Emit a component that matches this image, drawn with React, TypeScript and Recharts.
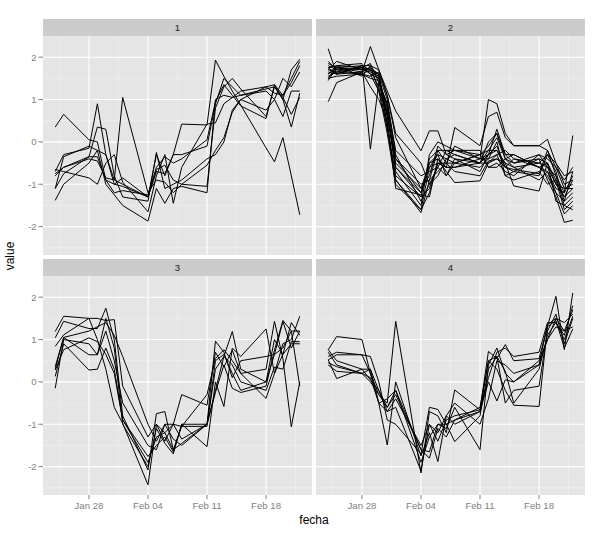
import React from 'react';
import { LineChart, Line, XAxis, YAxis, CartesianGrid } from 'recharts';

// business days in the series
const fechas = [
  '2013-01-24', '2013-01-25', '2013-01-28', '2013-01-29', '2013-01-30', '2013-01-31', '2013-02-01',
  '2013-02-04', '2013-02-05', '2013-02-06', '2013-02-07', '2013-02-08', '2013-02-11', '2013-02-12',
  '2013-02-13', '2013-02-14', '2013-02-15', '2013-02-18', '2013-02-19', '2013-02-20', '2013-02-21',
  '2013-02-22',
];

const xTickFechas = ['2013-01-28', '2013-02-04', '2013-02-11', '2013-02-18'];
const xTickLabels = ['Jan 28', 'Feb 04', 'Feb 11', 'Feb 18'];
const yTicks = [-2, -1, 0, 1, 2];
const yMinor = [-2.5, -1.5, -0.5, 0.5, 1.5, 2.5];

const grupo1 = [
  [0.35, 0.65, 0.05, 0.0, -0.9, -1.2, -1.15, -1.25, -0.6, -0.35, -0.5, -0.4, 0.05, 0.95, 1.35, 1.1, 0.85, 0.55, 1.35, 1.0, 0.35, 1.15],
  [-0.7, -0.3, -0.15, 0.9, -0.3, -1.0, -1.05, -1.3, -0.3, -0.8, -0.3, 0.42, 0.4, 1.93, 1.55, 1.2, 0.87, -0.14, -0.47, 0.1, -0.8, -1.72],
  [-1.1, -0.35, -0.1, -0.2, -0.3, -0.9, 1.05, -1.2, -0.9, -0.95, -1.2, -1.0, -1.05, 0.8, 1.3, 1.5, 1.25, 0.6, 1.3, 1.0, 1.7, 1.95],
  [-1.38, -1.0, -0.5, -0.2, -1.0, -1.25, -1.5, -1.87, -1.1, -1.45, -1.1, -1.05, -1.2, 1.0, 1.1, 1.05, 1.2, 1.3, 1.35, 1.1, 1.4, 1.8],
  [-0.65, -0.7, -0.85, -1.0, -0.5, -0.3, -0.95, -1.65, -0.8, -0.3, -1.45, -0.6, 0.42, 0.45, 0.9, 1.05, 1.1, 1.2, 1.0, 1.5, 1.3, 1.65],
  [-0.8, -0.6, -0.4, -0.45, -0.85, -0.9, -1.0, -1.3, -0.65, -0.55, -0.9, -1.0, -0.55, -0.2, 0.1, 0.7, 1.0, 1.3, 1.15, 1.1, 1.5, 1.9],
  [-0.75, -0.6, -0.35, 0.35, 0.3, -0.8, -1.3, -1.4, -0.25, -1.1, -1.0, -0.9, -0.4, -0.3, 0.0, 0.75, 1.0, 0.75, 1.0, 0.6, 1.2, 1.2],
  [-1.1, -0.75, -0.35, -0.35, -0.9, -1.0, -0.85, -1.3, -0.7, -0.75, -0.3, -0.3, -0.1, 0.9, 1.5, 1.3, 1.1, 1.25, 1.3, 1.05, 0.65, 1.05],
];

const grupo2 = [
  [1.5, 1.8, 1.85, -0.17, 1.4, 0.9, -0.4, -1.2, -0.6, -0.3, -0.4, -0.3, -0.5, 0.0, 0.2, -0.4, -0.3, -0.6, -0.5, -1.0, -1.3, -0.9],
  [0.95, 1.4, 1.65, 2.25, 1.7, 1.2, 0.73, -0.21, 0.26, 0.26, -0.3, -0.2, -0.4, 1.0, 0.9, 0.2, -0.09, -0.09, 0.06, -0.5, -0.8, -0.7],
  [2.2, 1.6, 1.8, 1.7, 1.3, 0.3, -0.9, -1.67, -0.9, -0.2, -0.5, -0.1, -0.4, -0.3, 0.3, -0.3, -0.5, -0.4, -0.9, -1.3, -1.9, -1.85],
  [1.8, 1.7, 1.75, 1.6, 1.5, 0.6, -0.6, -1.2, -0.5, -0.4, -0.6, 0.34, -0.09, 0.6, 0.7, 0.1, -0.09, -0.09, -0.2, -0.8, -1.2, 0.15],
  [1.6, 1.75, 1.7, 1.75, 1.6, 1.0, -0.3, -1.4, -1.0, -0.6, -0.8, -0.5, -0.3, -0.2, -0.2, -0.6, -0.7, -0.8, -0.3, -0.7, -1.4, -1.2],
  [1.7, 1.9, 1.7, 1.65, 1.55, 0.7, -0.5, -1.1, -0.8, -0.1, -0.3, -0.4, -0.5, -0.3, -0.2, -0.5, -0.6, -0.5, -0.6, -1.0, -1.1, -1.1],
  [1.85, 1.75, 1.8, 1.8, 1.2, 0.2, -1.0, -1.6, -1.2, -0.5, -0.6, -0.6, -0.4, -0.4, 0.0, -0.8, -0.9, -0.7, -1.0, -0.9, -1.6, -1.4],
  [1.5, 1.55, 1.6, 1.5, 1.45, 0.4, -0.8, -1.3, -0.4, -0.2, -0.2, -0.2, -0.2, -0.6, -0.5, -0.7, -0.8, -0.3, -0.4, -0.6, -0.9, -0.6],
  [1.75, 1.8, 1.75, 1.85, 1.4, 0.9, -0.2, -0.8, -0.7, -0.6, -0.2, -0.3, -0.5, -0.2, 0.1, -0.4, -0.6, -0.9, -0.7, -1.1, -1.2, -0.8],
  [1.65, 1.6, 1.65, 1.3, 1.0, 0.5, -1.1, -1.25, -1.3, -0.4, -0.7, -0.96, -0.92, -0.5, -0.4, -0.5, -1.04, -1.16, -0.5, -1.4, -1.5, -1.3],
  [1.9, 1.7, 1.6, 1.55, 1.65, 1.1, 0.2, -0.5, -1.0, -0.8, -0.4, -0.5, -0.6, -0.4, -0.3, -0.2, -0.4, -0.5, -0.3, -0.5, -1.0, -0.9],
  [1.55, 1.65, 1.75, 1.7, 1.5, 0.8, -0.7, -1.5, -0.3, 0.0, -0.1, -0.2, -0.3, -0.1, 0.2, -0.3, -0.3, -0.6, -0.7, -1.2, -1.7, -1.5],
  [1.45, 1.75, 1.65, 1.75, 1.55, 0.6, -0.4, -1.0, -0.9, -0.7, -0.5, -0.7, -0.8, -0.45, -0.4, -0.6, -0.65, -0.75, -0.2, -0.6, -1.1, -1.0],
  [1.7, 1.65, 1.6, 1.7, 1.6, 0.4, -0.9, -1.6, -0.6, -0.5, -0.6, -0.6, -0.5, -0.5, -0.3, -0.8, -0.7, -0.4, -0.5, -0.9, -1.3, -1.1],
  [1.6, 1.8, 1.55, 1.8, 1.7, 1.1, 0.1, -1.1, -0.5, -0.3, -0.8, -0.4, -0.7, -0.3, -0.1, -0.6, -0.4, -0.6, -0.8, -1.2, -1.4, -0.7],
  [1.75, 1.6, 1.8, 1.6, 1.2, 0.7, -0.6, -1.3, -1.1, -0.5, -0.5, -0.5, -0.3, -0.6, -0.6, -0.4, -0.5, -0.3, -0.6, -0.8, -1.5, -1.6],
];

const grupo3 = [
  [1.19, 1.55, 1.5, 1.5, 1.45, 1.47, -0.1, -1.3, -1.0, -1.2, -1.0, -1.05, -0.3, 0.55, 0.76, 0.5, 0.2, 0.3, 1.43, 0.55, -1.06, 0.0],
  [1.04, 1.43, 1.26, 1.26, 1.74, 1.0, -0.8, -2.08, -0.75, -0.7, -1.6, -1.45, -1.0, 0.96, 0.7, 0.1, 0.5, 0.6, 0.65, 1.43, 0.8, 1.2],
  [0.84, 1.11, 1.5, 1.0, 0.3, -0.6, -0.98, -2.43, -1.0, -1.4, -1.0, -1.35, -1.0, 0.3, 0.6, 1.19, 0.3, 0.0, 1.0, 0.65, 1.4, 1.1],
  [0.36, 1.05, 0.64, 0.64, 1.5, 0.8, -1.0, -2.0, -1.1, -1.45, -1.7, -1.0, -1.53, 0.0, -0.58, 0.8, 0.6, 1.25, 0.2, 0.9, 1.0, 1.55],
  [0.28, 0.76, 1.04, 0.95, 0.65, 0.2, -0.9, -1.76, -1.5, -1.3, -1.65, -1.0, -1.0, -0.2, 0.6, 0.4, 0.0, -0.2, 0.35, 0.3, 0.95, 0.95],
  [0.13, 0.9, 0.28, 0.3, 0.8, 0.3, -0.9, -1.9, -1.3, -1.2, -1.6, -1.05, -1.05, 0.5, 0.65, 0.2, -0.2, 0.0, 0.65, 0.8, 1.2, -0.1],
  [-0.15, 1.0, 0.9, 0.64, 1.2, 0.5, -0.5, -1.5, -1.6, -1.0, -1.0, -0.3, -0.55, 0.7, 0.35, 0.75, 0.2, -0.39, 0.2, 0.65, 0.9, 0.9],
  [0.3, 1.05, 1.2, 1.3, 1.4, 1.1, 0.6, -1.0, -1.4, -1.0, -1.35, -1.5, -1.0, -0.25, 0.4, -0.15, -0.25, -0.1, 0.75, 1.45, 1.2, 1.2],
];

const grupo4 = [
  [0.76, 1.07, 1.0, 0.2, -0.3, -0.5, 1.43, -2.15, -0.7, -0.8, -1.2, -0.19, -0.66, 0.72, 0.55, 0.88, 0.5, 0.55, 1.31, 2.02, 0.76, 2.1],
  [0.52, 0.64, 0.64, 0.2, -0.5, -1.49, 0.0, -1.75, -1.2, -1.88, -0.8, -1.0, -0.7, 0.5, 0.6, -0.5, -0.2, -0.1, 1.2, 1.6, 0.9, 1.5],
  [0.45, 0.36, 0.2, 0.0, -0.3, -0.6, -0.3, -1.6, -1.65, -1.0, -1.1, -0.6, -1.6, 0.4, 0.8, 0.2, 0.0, 0.5, 1.0, 1.3, 1.2, 1.3],
  [0.52, 0.08, 0.3, 0.05, -0.2, -0.7, -0.6, -2.1, -1.0, -1.2, -0.8, -0.5, -1.0, -0.4, 0.5, 0.4, 0.2, 0.4, 1.35, 1.5, 1.4, 1.6],
  [0.6, 0.7, 0.64, 0.6, 0.0, -0.9, -1.0, -1.7, -0.6, -0.65, -1.0, -1.41, -0.8, 0.3, 0.6, 0.25, -0.5, 0.3, 1.1, 1.4, 1.1, 1.8],
  [0.76, 0.5, 0.3, 0.3, -0.2, -0.6, -0.2, -1.6, -1.8, -1.1, -1.3, -0.9, -0.6, 0.5, 0.3, -0.2, -0.55, -0.58, 1.3, 1.45, 0.8, 1.25],
  [0.4, 0.25, 0.2, 0.1, -0.5, -0.4, -0.2, -1.9, -1.3, -1.0, -1.0, -0.9, -0.7, 0.0, -0.45, 0.05, 0.0, 0.4, 1.0, 1.5, 1.2, 1.7],
  [0.7, 0.4, 0.2, 0.3, -0.5, -0.7, -0.4, -1.5, -1.0, -1.4, -0.9, -0.8, -0.66, 0.1, 0.7, 0.8, 0.6, 0.7, 1.4, 1.4, 1.0, 1.55],
];

const FONT = '"Liberation Sans", Arial, Helvetica, sans-serif';

const dia = (s: string) => Math.round((Date.parse(s) - Date.parse('2013-01-01')) / 86400000) + 1;

const xs = fechas.map(dia);
const pad = (xs[xs.length - 1] - xs[0]) * 0.05;
const xDomain = [xs[0] - pad, xs[xs.length - 1] + pad];
const xTicks = xTickFechas.map(dia);
const xMinor = [xTicks[0] - 3.5, ...xTicks.map((t) => t + 3.5)];
const yDomain = [-2.67, 2.5];

const tickLabel = (v: number) => xTickLabels[xTicks.indexOf(v)] ?? '';

function buildRows(series: number[][]) {
  return xs.map((t, i) => {
    const row: Record<string, number> = { t };
    series.forEach((s, j) => {
      row['s' + j] = s[i];
    });
    return row;
  });
}

const PANEL_W = 269;
const BODY_H = 219;
const STRIP_H = 17;
const Y_AXIS_W = 43;
const X_AXIS_H = 24;

interface PanelProps {
  label: string;
  series: number[][];
  left: number;
  top: number;
  showY: boolean;
  showX: boolean;
}

function Panel({ label, series, left, top, showY, showX }: PanelProps) {
  const rows = buildRows(series);
  const chartLeft = showY ? left - Y_AXIS_W : left;
  const width = showY ? PANEL_W + Y_AXIS_W : PANEL_W;
  const height = showX ? BODY_H + X_AXIS_H : BODY_H;
  return (
    <>
      <div
        style={{
          position: 'absolute',
          left,
          top: top - STRIP_H,
          width: PANEL_W,
          height: STRIP_H,
          background: '#CCCCCC',
          color: '#1A1A1A',
          fontFamily: FONT,
          fontSize: 9.6,
          lineHeight: `${STRIP_H}px`,
          textAlign: 'center',
        }}
      >
        {label}
      </div>
      <div style={{ position: 'absolute', left: chartLeft, top }}>
        <LineChart width={width} height={height} data={rows} margin={{ top: 0, right: 0, bottom: 0, left: 0 }}>
          <CartesianGrid
            fill="#E5E5E5"
            stroke="#F2F2F2"
            strokeWidth={0.6}
            horizontalValues={yMinor}
            verticalValues={xMinor}
          />
          <CartesianGrid stroke="#FFFFFF" strokeWidth={1.1} horizontalValues={yTicks} verticalValues={xTicks} />
          <XAxis
            dataKey="t"
            type="number"
            domain={xDomain}
            allowDataOverflow
            ticks={xTicks}
            interval={0}
            tickFormatter={tickLabel}
            hide={!showX}
            height={X_AXIS_H}
            axisLine={false}
            tickSize={4}
            tickMargin={3}
            tickLine={{ stroke: '#7F7F7F' }}
            tick={{ fill: '#7F7F7F', fontSize: 9.6, fontFamily: FONT }}
          />
          <YAxis
            type="number"
            domain={yDomain}
            allowDataOverflow
            ticks={yTicks}
            interval={0}
            hide={!showY}
            width={Y_AXIS_W}
            axisLine={false}
            tickSize={4.5}
            tickMargin={2}
            tickLine={{ stroke: '#7F7F7F' }}
            tick={{ fill: '#7F7F7F', fontSize: 9.6, fontFamily: FONT }}
          />
          {series.map((_, j) => (
            <Line
              key={j}
              dataKey={'s' + j}
              type="linear"
              stroke="#000000"
              strokeWidth={1}
              dot={false}
              activeDot={false}
              isAnimationActive={false}
            />
          ))}
        </LineChart>
      </div>
    </>
  );
}

export default function App() {
  return (
    <div
      style={{
        position: 'absolute',
        left: 0,
        top: 0,
        width: 604,
        height: 538,
        background: '#FFFFFF',
        fontFamily: FONT,
      }}
    >
      <Panel label="1" series={grupo1} left={43} top={36} showY showX={false} />
      <Panel label="2" series={grupo2} left={316} top={36} showY={false} showX={false} />
      <Panel label="3" series={grupo3} left={43} top={276} showY showX />
      <Panel label="4" series={grupo4} left={316} top={276} showY={false} showX />
      <div
        style={{
          position: 'absolute',
          left: 314,
          top: 520,
          transform: 'translate(-50%, -50%)',
          fontSize: 12,
          color: '#000',
          whiteSpace: 'nowrap',
        }}
      >
        fecha
      </div>
      <div
        style={{
          position: 'absolute',
          left: 10,
          top: 256,
          transform: 'translate(-50%, -50%) rotate(-90deg)',
          fontSize: 12,
          color: '#000',
          whiteSpace: 'nowrap',
        }}
      >
        value
      </div>
    </div>
  );
}
